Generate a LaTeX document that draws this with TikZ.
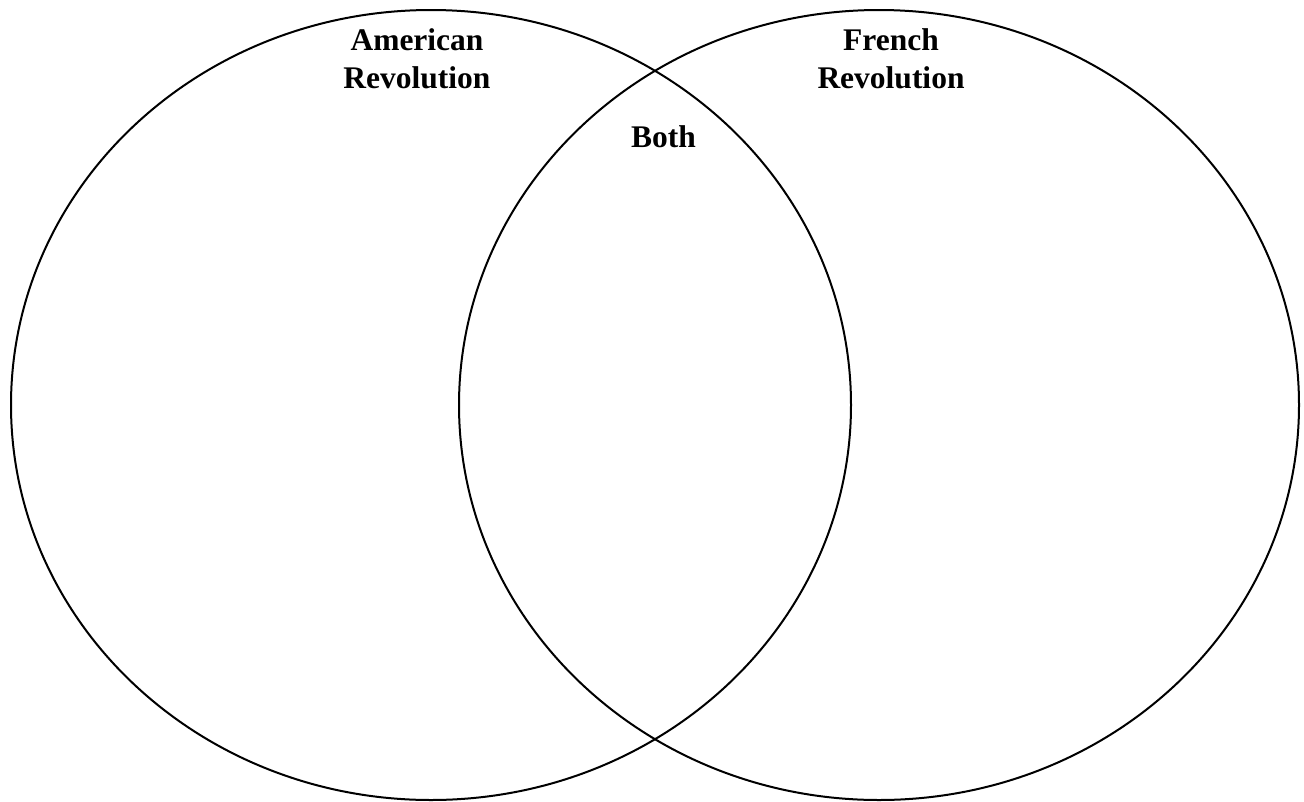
\documentclass[tikz,border=0pt]{standalone}
\usepackage{fontspec}
\setmainfont{Liberation Serif}
\begin{document}
\begin{tikzpicture}[x=1pt,y=-1pt,
  ring/.style={draw=black,line width=2pt},
  lbl/.style={font=\bfseries\fontsize{31.5}{38}\selectfont,inner sep=0pt,align=center,anchor=base}]
\useasboundingbox (0,0) rectangle (1304,801);
\draw[ring] (431,405) ellipse [x radius=420, y radius=395];
\draw[ring] (879,405) ellipse [x radius=420, y radius=395];
\node[lbl] (am) at (417,88) {American\\Revolution};
\node[lbl] (fr) at (891,88) {French\\Revolution};
\node[lbl] (both) at (663.5,147) {Both};
\end{tikzpicture}
\end{document}
